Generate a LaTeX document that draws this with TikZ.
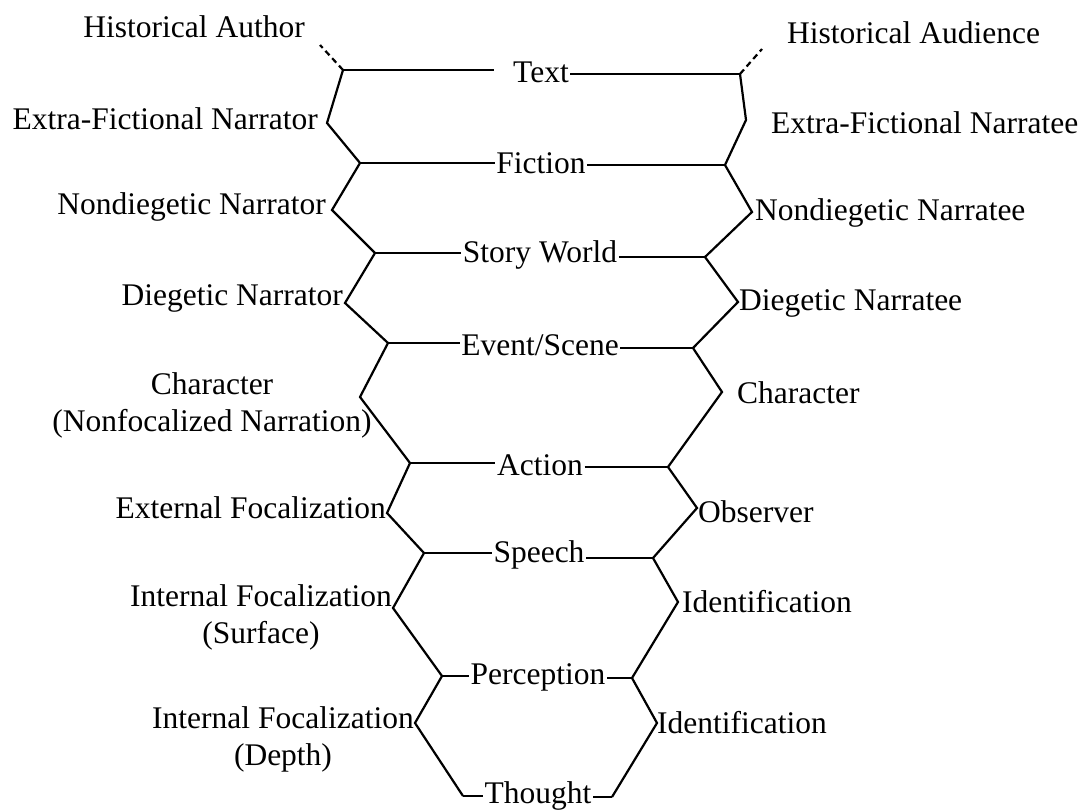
\documentclass[tikz,border=0pt]{standalone}
\usepackage{fontspec}
\setmainfont{Liberation Serif}
\begin{document}
\begin{tikzpicture}[x=1pt,y=-1pt,
  lbl/.style={inner sep=0pt,font=\fontsize{31.5}{37}\selectfont},
  mid/.style={inner sep=1.5pt,font=\fontsize{31.5}{37}\selectfont},
  ln/.style={line width=2.2pt,line join=miter},
  dsh/.style={line width=2.2pt,dash pattern=on 6pt off 4pt}]
\useasboundingbox (0,0) rectangle (1083,810);
% left vertices
\coordinate (DA) at (320,45);
\coordinate (L0) at (343,70);   \coordinate (L0b) at (327,123);
\coordinate (L1) at (360,163);  \coordinate (L1b) at (332,210);
\coordinate (L2) at (375,253);  \coordinate (L2b) at (345,303);
\coordinate (L3) at (388,343);  \coordinate (L3b) at (360,397);
\coordinate (L4) at (410,463);  \coordinate (L4b) at (387,513);
\coordinate (L5) at (424,553);  \coordinate (L5b) at (393,608);
\coordinate (L6) at (442,676);  \coordinate (L6b) at (415,723);
\coordinate (L7) at (463,796);
% right vertices
\coordinate (DR) at (762,49);
\coordinate (R0) at (740,74);   \coordinate (R0b) at (746,120);
\coordinate (R1) at (725,165);  \coordinate (R1b) at (752,212);
\coordinate (R2) at (705,257);  \coordinate (R2b) at (738,302);
\coordinate (R3) at (693,348);  \coordinate (R3b) at (722,392);
\coordinate (R4) at (668,467);  \coordinate (R4b) at (697,508);
\coordinate (R5) at (653,558);  \coordinate (R5b) at (678,602);
\coordinate (R6) at (632,678);  \coordinate (R6b) at (657,723);
\coordinate (R7) at (612,797);
% center nodes
\node[mid] (tText) at (541,72) {Text};
\node[mid] (tFic) at (541,163) {Fiction};
\node[mid] (tSW) at (540,255) {Story World};
\node[mid] (tES) at (540,345) {Event/Scene};
\node[mid] (tAct) at (540,465) {Action};
\node[mid] (tSp) at (539,555) {Speech};
\node[mid] (tPer) at (538,677) {Perception};
\node[mid] (tTh) at (538,796) {Thought};
% left labels
\node[lbl,anchor=east] (lHA) at (305,27) {Historical Author};
\node[lbl,anchor=east] (lEFN) at (318,119) {Extra-Fictional Narrator};
\node[lbl,anchor=east] (lND) at (326,207) {Nondiegetic Narrator};
\node[lbl,anchor=east] (lDN) at (343,298) {Diegetic Narrator};
\node[lbl,align=center] (lCh) at (212,405) {Character\\(Nonfocalized Narration)};
\node[lbl,anchor=east] (lEF) at (386,508) {External Focalization};
\node[lbl,align=center] (lIFS) at (261,617) {Internal Focalization\\(Surface)};
\node[lbl,align=center] (lIFD) at (283,739) {Internal Focalization\\(Depth)};
% right labels
\node[lbl,anchor=west] (rHA) at (787,33) {Historical Audience};
\node[lbl,anchor=west] (rEFN) at (771,123) {Extra-Fictional Narratee};
\node[lbl,anchor=west] (rND) at (755,213) {Nondiegetic Narratee};
\node[lbl,anchor=west] (rDN) at (739,303) {Diegetic Narratee};
\node[lbl,anchor=west] (rCh) at (737,393) {Character};
\node[lbl,anchor=west] (rOb) at (698,512) {Observer};
\node[lbl,anchor=west] (rId1) at (682,602) {Identification};
\node[lbl,anchor=west] (rId2) at (657,723) {Identification};
% dashed ends
\draw[dsh] (L0) -- (DA);
\draw[dsh] (R0) -- (DR);
% zigzags
\draw[ln] (L0) -- (L0b) -- (L1) -- (L1b) -- (L2) -- (L2b) -- (L3) -- (L3b) -- (L4) -- (L4b) -- (L5) -- (L5b) -- (L6) -- (L6b) -- (L7);
\draw[ln] (R0) -- (R0b) -- (R1) -- (R1b) -- (R2) -- (R2b) -- (R3) -- (R3b) -- (R4) -- (R4b) -- (R5) -- (R5b) -- (R6) -- (R6b) -- (R7);
% rungs
\draw[ln,shorten >=18pt] (L0) -- (L0 -| tText.west);
\draw[ln] (tText.east |- R0) -- (R0);
\foreach \n/\i in {tFic/1,tSW/2,tES/3,tAct/4,tSp/5,tPer/6,tTh/7}{
  \draw[ln] (L\i) -- (L\i -| \n.west);
  \draw[ln] (\n.east |- R\i) -- (R\i);
}
\end{tikzpicture}
\end{document}
